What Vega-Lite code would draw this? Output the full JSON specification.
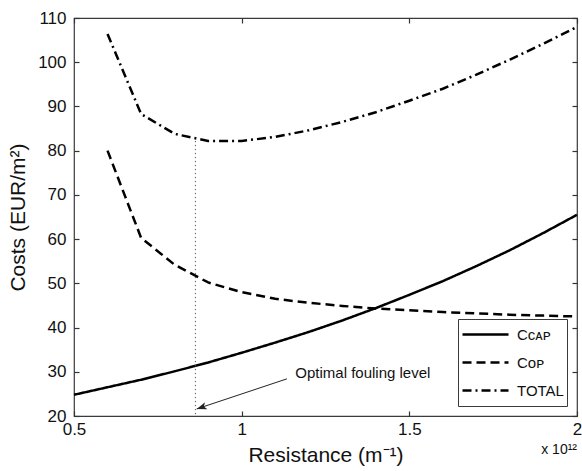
{
  "$schema": "https://vega.github.io/schema/vega-lite/v6.json",
  "autosize": "none",
  "padding": {"left": 74, "top": 18, "right": 5, "bottom": 55},
  "width": 503,
  "height": 398,
  "background": "white",
  "datasets": {
    "curves": [
      {"R": 0.5, "cost": 24.8, "series": "C_CAP"},
      {"R": 0.6, "cost": 26.5, "series": "C_CAP"},
      {"R": 0.7, "cost": 28.2, "series": "C_CAP"},
      {"R": 0.8, "cost": 30.1, "series": "C_CAP"},
      {"R": 0.9, "cost": 32.1, "series": "C_CAP"},
      {"R": 1.0, "cost": 34.3, "series": "C_CAP"},
      {"R": 1.1, "cost": 36.6, "series": "C_CAP"},
      {"R": 1.2, "cost": 39.0, "series": "C_CAP"},
      {"R": 1.3, "cost": 41.6, "series": "C_CAP"},
      {"R": 1.4, "cost": 44.4, "series": "C_CAP"},
      {"R": 1.5, "cost": 47.4, "series": "C_CAP"},
      {"R": 1.6, "cost": 50.5, "series": "C_CAP"},
      {"R": 1.7, "cost": 53.9, "series": "C_CAP"},
      {"R": 1.8, "cost": 57.5, "series": "C_CAP"},
      {"R": 1.9, "cost": 61.4, "series": "C_CAP"},
      {"R": 2.0, "cost": 65.5, "series": "C_CAP"},
      {"R": 0.6, "cost": 80.0, "series": "C_OP"},
      {"R": 0.7, "cost": 60.3, "series": "C_OP"},
      {"R": 0.8, "cost": 54.2, "series": "C_OP"},
      {"R": 0.9, "cost": 50.2, "series": "C_OP"},
      {"R": 1.0, "cost": 48.0, "series": "C_OP"},
      {"R": 1.1, "cost": 46.5, "series": "C_OP"},
      {"R": 1.2, "cost": 45.6, "series": "C_OP"},
      {"R": 1.3, "cost": 44.9, "series": "C_OP"},
      {"R": 1.4, "cost": 44.3, "series": "C_OP"},
      {"R": 1.5, "cost": 43.9, "series": "C_OP"},
      {"R": 1.6, "cost": 43.5, "series": "C_OP"},
      {"R": 1.7, "cost": 43.2, "series": "C_OP"},
      {"R": 1.8, "cost": 42.9, "series": "C_OP"},
      {"R": 1.9, "cost": 42.7, "series": "C_OP"},
      {"R": 2.0, "cost": 42.5, "series": "C_OP"},
      {"R": 0.6, "cost": 106.4, "series": "TOTAL"},
      {"R": 0.7, "cost": 88.3, "series": "TOTAL"},
      {"R": 0.8, "cost": 83.8, "series": "TOTAL"},
      {"R": 0.9, "cost": 82.2, "series": "TOTAL"},
      {"R": 1.0, "cost": 82.2, "series": "TOTAL"},
      {"R": 1.1, "cost": 83.1, "series": "TOTAL"},
      {"R": 1.2, "cost": 84.6, "series": "TOTAL"},
      {"R": 1.3, "cost": 86.5, "series": "TOTAL"},
      {"R": 1.4, "cost": 88.7, "series": "TOTAL"},
      {"R": 1.5, "cost": 91.3, "series": "TOTAL"},
      {"R": 1.6, "cost": 94.0, "series": "TOTAL"},
      {"R": 1.7, "cost": 97.2, "series": "TOTAL"},
      {"R": 1.8, "cost": 100.6, "series": "TOTAL"},
      {"R": 1.9, "cost": 104.2, "series": "TOTAL"},
      {"R": 2.0, "cost": 108.0, "series": "TOTAL"}
    ],
    "optimum": [{"R": 0.862, "top": 82.2, "bottom": 20}],
    "arrow": [{"R": 1.135, "cost": 28.4, "R2": 0.866, "cost2": 21.6}],
    "note": [{"R": 1.16, "cost": 28.7, "label": "Optimal fouling level"}]
  },
  "config": {
    "font": "Liberation Sans",
    "view": {"stroke": "#3a3a3a", "strokeWidth": 1.2},
    "axis": {
      "labelFontSize": 17,
      "labelColor": "#111111",
      "titleFontSize": 21,
      "titleFontWeight": "normal",
      "titleColor": "#111111",
      "tickColor": "#333333",
      "tickWidth": 1.2,
      "domain": false,
      "grid": false,
      "labelFlush": false,
      "labelOverlap": false,
      "labelBound": false
    }
  },
  "title": {
    "text": "x 10¹²",
    "orient": "bottom",
    "anchor": "end",
    "frame": "group",
    "fontSize": 14,
    "fontWeight": "normal",
    "color": "#111111",
    "offset": -22
  },
  "layer": [
    {
      "data": {"name": "curves"},
      "mark": {"type": "line", "strokeWidth": 2.5, "color": "black", "strokeCap": "butt"},
      "encoding": {
        "x": {
          "field": "R", "type": "quantitative",
          "scale": {"domain": [0.5, 2], "nice": false, "zero": false},
          "axis": {
            "orient": "bottom", "title": "Resistance (m⁻¹)",
            "values": [0.5, 1, 1.5, 2], "format": "~g",
            "tickSize": -5, "labelPadding": 10, "titlePadding": 7
          }
        },
        "y": {
          "field": "cost", "type": "quantitative",
          "scale": {"domain": [20, 110], "nice": false, "zero": false},
          "axis": {
            "orient": "left", "title": "Costs (EUR/m²)",
            "values": [20, 30, 40, 50, 60, 70, 80, 90, 100, 110],
            "tickSize": -5, "labelPadding": 13, "titlePadding": 9
          }
        },
        "strokeDash": {
          "field": "series", "type": "nominal",
          "scale": {"domain": ["C_CAP", "C_OP", "TOTAL"], "range": [[1, 0], [9, 5], [9, 4, 2, 4]]},
          "legend": {
            "title": null,
            "orient": "bottom-right",
            "offset": 10,
            "strokeColor": "#3a3a3a",
            "fillColor": "white",
            "padding": 3,
            "symbolType": "stroke",
            "symbolSize": 2116,
            "symbolStrokeWidth": 2.5,
            "symbolStrokeColor": "black",
            "labelFontSize": 15,
            "labelColor": "#111111",
            "labelOffset": 7,
            "clipHeight": 25,
            "rowPadding": 3,
            "labelExpr": "datum.label == 'C_CAP' ? 'Cᴄᴀᴘ' : datum.label == 'C_OP' ? 'Cᴏᴘ' : datum.label"
          }
        }
      }
    },
    {
      "data": {"name": "optimum"},
      "mark": {"type": "rule", "color": "#555555", "strokeWidth": 1, "strokeDash": [1.2, 2.8]},
      "encoding": {
        "x": {
          "field": "R", "type": "quantitative",
          "axis": {"orient": "top", "title": null, "labels": false, "values": [0.5, 1, 1.5, 2], "tickSize": -5}
        },
        "y": {
          "field": "top", "type": "quantitative",
          "axis": {"orient": "right", "title": null, "labels": false, "values": [20, 30, 40, 50, 60, 70, 80, 90, 100, 110], "tickSize": -5}
        },
        "y2": {"field": "bottom"}
      }
    },
    {
      "data": {"name": "arrow"},
      "mark": {"type": "rule", "color": "#222222", "strokeWidth": 1},
      "encoding": {
        "x": {"field": "R", "type": "quantitative", "axis": null},
        "y": {"field": "cost", "type": "quantitative", "axis": null},
        "x2": {"field": "R2"},
        "y2": {"field": "cost2"}
      }
    },
    {
      "data": {"name": "arrow"},
      "mark": {"type": "point", "shape": "M0,0L2,-0.75L1.5,0L2,0.75Z", "size": 100, "filled": true, "color": "#222222", "opacity": 1, "angle": -18.5},
      "encoding": {
        "x": {"field": "R2", "type": "quantitative", "axis": null},
        "y": {"field": "cost2", "type": "quantitative", "axis": null}
      }
    },
    {
      "data": {"name": "note"},
      "mark": {"type": "text", "align": "left", "baseline": "alphabetic", "fontSize": 15, "color": "#111111"},
      "encoding": {
        "x": {"field": "R", "type": "quantitative", "axis": null},
        "y": {"field": "cost", "type": "quantitative", "axis": null},
        "text": {"field": "label"}
      }
    }
  ],
  "resolve": {"axis": {"x": "independent", "y": "independent"}}
}
